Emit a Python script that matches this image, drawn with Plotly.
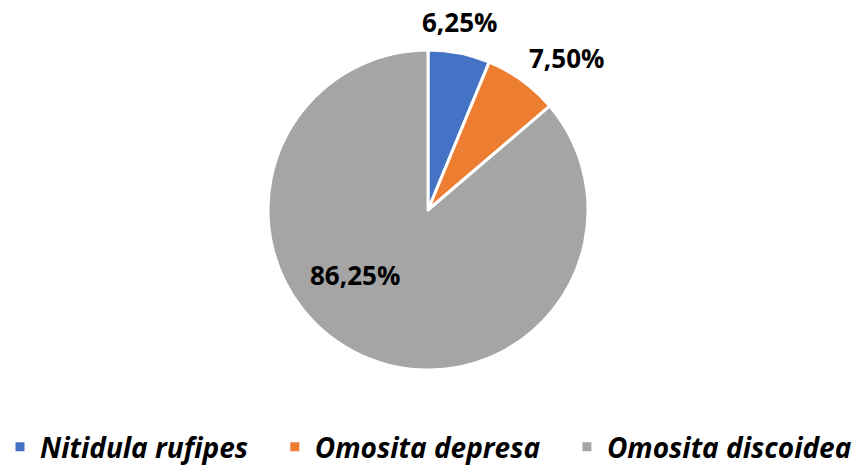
import plotly.graph_objects as go

species = ["Nitidula rufipes", "Omosita depresa", "Omosita discoidea"]
percentages = [6.25, 7.50, 86.25]
colors = ["#4472C4", "#ED7D31", "#A5A5A5"]
label_texts = [f"{v:.2f}%".replace(".", ",") for v in percentages]

W, H = 863, 472

def px_x(px):
    return px / W

def px_y(py):
    return 1 - py / H

# legend names padded with non-breaking spaces to widen the gaps between entries
legend_names = [s + "\u00a0" * 3 if i < len(species) - 1 else s for i, s in enumerate(species)]

fig = go.Figure()
fig.add_trace(go.Pie(
    labels=legend_names,
    values=percentages,
    sort=False,
    direction="clockwise",
    rotation=0,
    marker=dict(colors=colors, line=dict(color="white", width=3)),
    textinfo="none",
    hoverinfo="label+percent",
    domain=dict(x=[px_x(268), px_x(588)], y=[px_y(370), px_y(50)]),
))

# label positions (pixel centers from the reference layout)
label_pos = [(460, 22), (566, 58), (355, 275)]
for txt, (px, py) in zip(label_texts, label_pos):
    fig.add_annotation(
        x=px_x(px), y=px_y(py), xref="paper", yref="paper",
        text=f"<b>{txt}</b>", showarrow=False,
        xanchor="center", yanchor="middle",
        font=dict(family="Open Sans", size=26, color="#000000"),
    )

fig.update_layout(
    width=W, height=H,
    margin=dict(l=0, r=0, t=0, b=0),
    paper_bgcolor="white", plot_bgcolor="white",
    showlegend=True,
    legend=dict(
        orientation="h", x=0, xanchor="left", y=0, yanchor="bottom",
        font=dict(family="Open Sans", size=28, color="#000000", style="italic", weight="bold"),
        itemwidth=30, traceorder="normal",
    ),
)
fig.write_html("out.html", config={"displayModeBar": False},
               post_script="document.body.style.margin='0';")
